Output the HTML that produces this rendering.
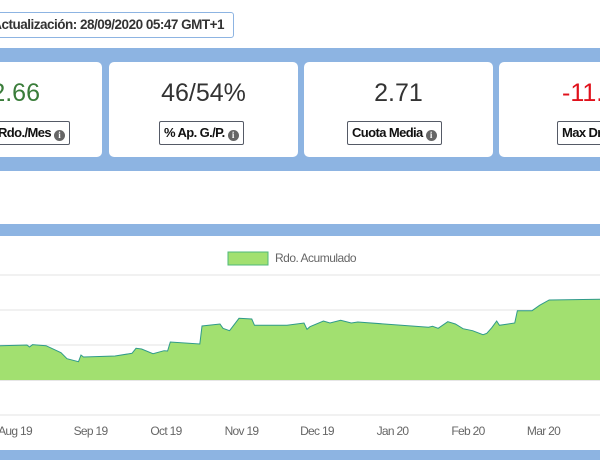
<!DOCTYPE html>
<html><head><meta charset="utf-8"><style>
body{margin:0;width:600px;height:468px;overflow:hidden;background:#fff;font-family:"Liberation Sans",sans-serif;position:relative}
.ts{position:absolute;left:-60px;top:12px;width:292px;height:24px;border:1.5px solid #8db4e2;border-radius:3px;font-weight:bold;font-size:13.5px;letter-spacing:-0.5px;color:#333;line-height:24px;box-sizing:content-box}
.ts span{position:absolute;right:9px;white-space:nowrap}
.band{position:absolute;left:0;width:600px;background:#8db4e2}
.card{position:absolute;top:62px;height:95px;background:#fff;border-radius:5px;text-align:center;overflow:hidden}
.val{position:absolute;left:0;right:0;top:17px;font-size:25px;color:#333}
.lbl{position:absolute;top:59px;height:22px;border:1.5px solid #555a66;border-radius:2px;font-weight:bold;font-size:13px;letter-spacing:-0.6px;line-height:22px;padding:0 4px;white-space:nowrap;color:#111;background:#fff}
.i{display:inline-block;width:11px;height:11px;border-radius:50%;background:#666;color:#fff;font-size:9px;line-height:11px;text-align:center;margin-left:3px;letter-spacing:0;font-family:"Liberation Serif",serif;vertical-align:-1px}
</style></head><body>
<div class="ts"><span>Actualización: 28/09/2020 05:47 GMT+1</span></div>
<div class="band" style="top:48px;height:123px"></div>
<div class="card" style="left:-90px;width:192px"><div class="val" style="color:#3a7d3a;left:auto;right:62px">2.66</div><div class="lbl" style="right:32px">Rdo./Mes<span class="i">i</span></div></div>
<div class="card" style="left:109px;width:189px"><div class="val">46/54%</div><div class="lbl" style="left:50px">% Ap. G./P.<span class="i">i</span></div></div>
<div class="card" style="left:304px;width:189px"><div class="val">2.71</div><div class="lbl" style="left:43px">Cuota Media<span class="i">i</span></div></div>
<div class="card" style="left:499px;width:189px"><div class="val" style="color:#e0111b;left:63px;text-align:left">-11.25</div><div class="lbl" style="left:58px">Max Drawdown<span class="i">i</span></div></div>
<div class="band" style="top:224px;height:12px"></div>
<div class="band" style="top:450px;height:10px"></div>
<svg id="chart" width="600" height="214" style="position:absolute;left:0;top:236px"></svg>
<script>
const months=["Aug 19","Sep 19","Oct 19","Nov 19","Dec 19","Jan 20","Feb 20","Mar 20","Apr 20"];
const yTicks=[-10,0,10,20,30];
const tVals=[-0.2,0.159,0.192,0.232,0.411,0.609,0.689,0.841,0.874,0.907,1.325,1.55,1.603,1.677,1.828,1.974,2.021,2.057,2.448,2.477,2.715,2.755,2.842,2.967,3.136,3.172,3.603,3.828,3.868,3.907,4.085,4.172,4.313,4.454,4.54,5.478,5.53,5.605,5.732,5.833,5.934,6.061,6.199,6.249,6.315,6.38,6.416,6.619,6.654,6.848,6.948,7.075,7.75];
const rdo=[9.8,10,9.43,10.09,9.8,7.8,6.09,5.23,7.14,6.57,6.86,7.63,9.06,8.86,7.51,8.37,8.29,10.86,10.29,15.43,16,14.77,14.09,17.63,17.43,15.63,15.63,16.29,14.49,15.23,16.86,16.29,17.06,16.29,16.57,15.06,15.34,14.77,16.66,16,14.66,14.09,12.94,13.34,14.94,16.86,15.63,16.29,19.8,19.8,21.34,22.86,23.06];
const NS="http://www.w3.org/2000/svg";
const svg=document.getElementById('chart');
const X=t=>15+t*75.5;
const Y=v=>144-v*3.5;
function mk(tag,attrs){const e=document.createElementNS(NS,tag);for(const k in attrs)e.setAttribute(k,attrs[k]);svg.appendChild(e);return e;}
yTicks.forEach(v=>{const l=mk('line',{x1:0,x2:600,y1:Y(v),y2:Y(v),stroke:v===0?'#ccc':'#e3e3e3','stroke-width':1});

});
let d='M'+X(tVals[0])+','+Y(0);
tVals.forEach((t,i)=>{d+=' L'+X(t)+','+Y(rdo[i]);});
d+=' L'+X(tVals[tVals.length-1])+','+Y(0)+' Z';
const area=mk('path',{d:d,fill:'#a2e070',stroke:'none'});


const ln=mk('polyline',{points:tVals.map((t,i)=>X(t)+','+Y(rdo[i])).join(' '),fill:'none',stroke:'#2f9a8a','stroke-width':1});


months.forEach((m,i)=>{const tx=mk('text',{x:X(i),y:199,'text-anchor':'middle','font-size':12,'letter-spacing':'-0.7',fill:'#666','font-family':'Liberation Sans, sans-serif'});tx.textContent=m;

});
const sw=mk('rect',{x:228,y:16,width:40,height:13,fill:'#a2e070',stroke:'#4fb87a','stroke-width':1});


const lt=mk('text',{x:275,y:26,'font-size':12,'letter-spacing':'-0.5',fill:'#666','font-family':'Liberation Sans, sans-serif'});lt.textContent='Rdo. Acumulado';


</script>
</body></html>
